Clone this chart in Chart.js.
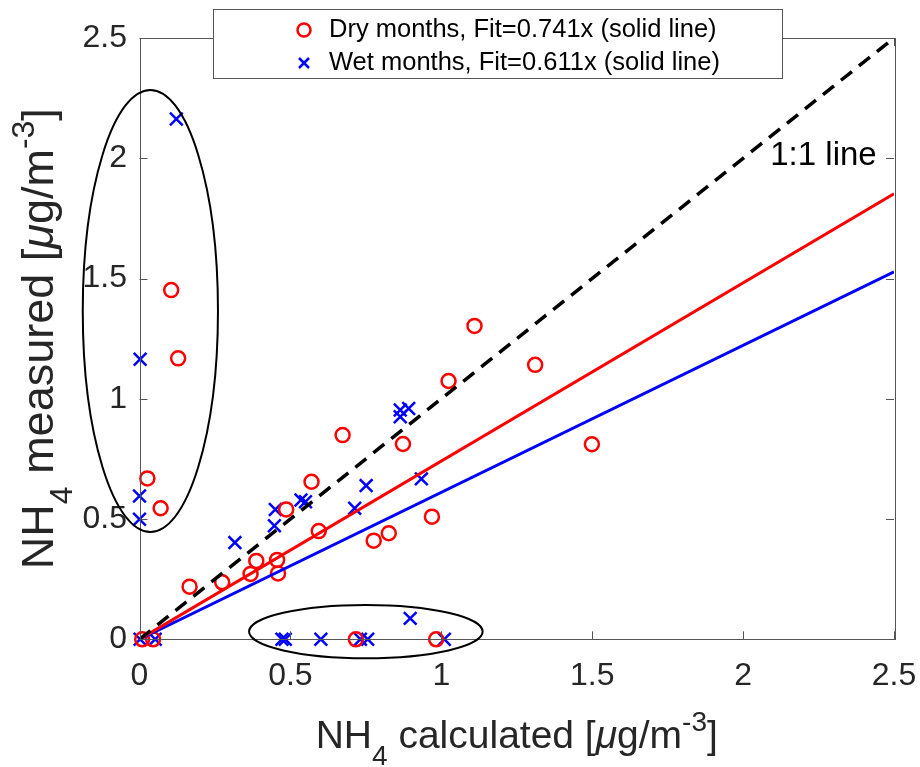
<!DOCTYPE html>
<html><head><meta charset="utf-8">
<script src="https://cdn.jsdelivr.net/npm/chart.js@4.4.0/dist/chart.umd.min.js"></script>
<style>html,body{margin:0;padding:0;background:#fff;} #wrap{width:920px;height:767px;position:relative;}</style>
</head><body><div id="wrap"><canvas id="c" width="920" height="767"></canvas></div>
<script>
// ---- data ----
const dryX = [0.105,0.128,0.026,0.070,1.110,1.311,1.024,0.673,0.873,1.499,0.570,0.486,0.969,0.594,0.826,0.776,0.387,0.456,0.368,0.459,0.274,0.166,0.009,0.045,0.717,0.983];
const dryY = [1.452,1.168,0.669,0.545,1.303,1.141,1.074,0.849,0.812,0.811,0.655,0.540,0.510,0.450,0.441,0.410,0.326,0.330,0.272,0.274,0.237,0.219,0,0,0,0];
const wetX = [0.122,0.002,0,0,0.864,0.892,0.864,0.751,0.934,0.535,0.550,0.713,0.450,0.447,0.316,0.897,0.002,0.052,0.472,0.483,0.601,0.732,0.756,1.010];
const wetY = [2.163,1.164,0.596,0.499,0.953,0.960,0.925,0.639,0.667,0.579,0.572,0.545,0.540,0.472,0.402,0.087,0,0,0,0,0,0,0,0];
const dryFit = 0.741;
const wetFit = 0.611;
const lineEnd = 2.5;
const xTickValues = [0,0.5,1,1.5,2,2.5];
const yTickValues = [0,0.5,1,1.5,2,2.5];
const xTickLabels = ['0','0.5','1','1.5','2','2.5'];
const yTickLabels = ['0','0.5','1','1.5','2','2.5'];
const legendLabels = ['Dry months, Fit=0.741x (solid line)','Wet months, Fit=0.611x (solid line)'];
const oneToOneLabel = '1:1 line';
// ellipse annotations (data units): centre x, centre y, semi-axis x, semi-axis y
const ellCX = [0.036, 0.750];
const ellCY = [1.365, 0.032];
const ellRX = [0.224, 0.387];
const ellRY = [0.919, 0.111];

const FONT = '"Liberation Sans", Arial, Helvetica, sans-serif';
const RED = '#ff0000', BLUE = '#0000ff', AX = '#262626';

const pts = (xs, ys) => xs.map((v, i) => ({x: v, y: ys[i]}));

function drawRich(ctx, parts, x, y) {
  let total = 0;
  parts.forEach(p => { ctx.font = (p.italic ? 'italic ' : '') + p.size + 'px ' + FONT; p.w = ctx.measureText(p.t).width; total += p.w; });
  let cx = x - total / 2;
  ctx.textAlign = 'left'; ctx.textBaseline = 'alphabetic';
  parts.forEach(p => { ctx.font = (p.italic ? 'italic ' : '') + p.size + 'px ' + FONT; ctx.fillText(p.t, cx, y + (p.dy || 0)); cx += p.w; });
}

const mkTitle = (word, big, small, shift) => [
  {t: 'NH', size: big}, {t: '4', size: small, dy: shift}, {t: ' ' + word + ' [', size: big},
  {t: 'μ', size: big, italic: true}, {t: 'g/m', size: big}, {t: '-3', size: small, dy: -shift}, {t: ']', size: big}
];

const deco = {
  id: 'deco',
  afterDatasetsDraw(chart) {
    const {ctx, chartArea: a, scales: {x, y}} = chart;
    ctx.save();
    // axes box
    ctx.strokeStyle = '#555'; ctx.lineWidth = 1;
    ctx.strokeRect(Math.round(a.left) + 0.5, Math.round(a.top) + 0.5, Math.round(a.right - a.left), Math.round(a.bottom - a.top));
    // inward ticks on all sides
    const TL = 8;
    ctx.beginPath();
    xTickValues.forEach(v => { const px = Math.round(x.getPixelForValue(v)) + 0.5; ctx.moveTo(px, a.bottom); ctx.lineTo(px, a.bottom - TL); ctx.moveTo(px, a.top); ctx.lineTo(px, a.top + TL); });
    yTickValues.forEach(v => { const py = Math.round(y.getPixelForValue(v)) + 0.5; ctx.moveTo(a.left, py); ctx.lineTo(a.left + TL, py); ctx.moveTo(a.right, py); ctx.lineTo(a.right - TL, py); });
    ctx.stroke();
    // ellipses
    ctx.strokeStyle = '#000'; ctx.lineWidth = 2;
    ellCX.forEach((cxv, i) => {
      const cx = x.getPixelForValue(cxv), cy = y.getPixelForValue(ellCY[i]);
      const rx = x.getPixelForValue(cxv + ellRX[i]) - cx;
      const ry = cy - y.getPixelForValue(ellCY[i] + ellRY[i]);
      ctx.beginPath(); ctx.ellipse(cx, cy, rx, ry, 0, 0, 2 * Math.PI); ctx.stroke();
    });
    // 1:1 label
    ctx.fillStyle = '#000';
    ctx.font = '33px ' + FONT; ctx.textAlign = 'left'; ctx.textBaseline = 'middle';
    ctx.fillText(oneToOneLabel, x.getPixelForValue(2.09), y.getPixelForValue(2.01));
    // legend
    const L = 213, T = 9, W = 569, H = 69;
    ctx.fillStyle = '#fff'; ctx.fillRect(L, T, W, H);
    ctx.strokeStyle = '#555'; ctx.lineWidth = 1; ctx.strokeRect(L + 0.5, T + 0.5, W, H);
    const rows = [T + 21, T + 54];
    ctx.strokeStyle = RED; ctx.lineWidth = 2.5;
    ctx.beginPath(); ctx.arc(304, rows[0], 6.5, 0, 2 * Math.PI); ctx.stroke();
    ctx.strokeStyle = BLUE; ctx.lineWidth = 2.5;
    const s = 5;
    ctx.beginPath(); ctx.moveTo(304 - s, rows[1] - s); ctx.lineTo(304 + s, rows[1] + s); ctx.moveTo(304 - s, rows[1] + s); ctx.lineTo(304 + s, rows[1] - s); ctx.stroke();
    ctx.fillStyle = '#000'; ctx.font = '25.5px ' + FONT; ctx.textBaseline = 'middle'; ctx.textAlign = 'left';
    ctx.fillText(legendLabels[0], 329, rows[0]);
    ctx.fillText(legendLabels[1], 329, rows[1]);
    // axis titles
    ctx.fillStyle = AX;
    const cxT = (a.left + a.right) / 2;
    drawRich(ctx, mkTitle('calculated', 39, 28, 17), cxT, 748);
    ctx.save();
    ctx.translate(53, (a.top + a.bottom) / 2);
    ctx.rotate(-Math.PI / 2);
    drawRich(ctx, mkTitle('measured', 45, 32, 19), 0, 0);
    ctx.restore();
    ctx.restore();
  }
};

new Chart(document.getElementById('c'), {
  type: 'scatter',
  data: {
    datasets: [
      {label: '1:1', type: 'line', data: [{x: 0, y: 0}, {x: lineEnd, y: lineEnd}], borderColor: '#000', borderWidth: 3.5, borderDash: [14, 9], pointRadius: 0, showLine: true, fill: false},
      {label: 'dry fit', type: 'line', data: [{x: 0, y: 0}, {x: lineEnd, y: dryFit * lineEnd}], borderColor: RED, borderWidth: 3, pointRadius: 0, showLine: true, fill: false},
      {label: 'wet fit', type: 'line', data: [{x: 0, y: 0}, {x: lineEnd, y: wetFit * lineEnd}], borderColor: BLUE, borderWidth: 3, pointRadius: 0, showLine: true, fill: false},
      {label: legendLabels[0], data: pts(dryX, dryY), pointStyle: 'circle', pointRadius: 7, pointBorderWidth: 2.5, borderColor: RED, backgroundColor: 'rgba(0,0,0,0)', clip: false},
      {label: legendLabels[1], data: pts(wetX, wetY), pointStyle: 'crossRot', pointRadius: 9, pointBorderWidth: 2.5, borderColor: BLUE, backgroundColor: BLUE, clip: false}
    ]
  },
  options: {
    responsive: false, animation: false, devicePixelRatio: 1,
    layout: {padding: {top: 38, right: 26, left: 0, bottom: 0}},
    plugins: {legend: {display: false}, tooltip: {enabled: false}},
    scales: {
      x: {
        type: 'linear', min: 0, max: 2.5, position: 'bottom',
        afterBuildTicks: s => { s.ticks = xTickValues.map(v => ({value: v})); },
        afterFit: s => { s.height = 127.7; s.paddingLeft = 0; s.paddingRight = 0; },
        grid: {display: false, drawTicks: false}, border: {display: false},
        ticks: {padding: 18, color: AX, font: {size: 32, family: FONT}, maxRotation: 0, autoSkip: false,
          callback: (v) => xTickLabels[xTickValues.indexOf(v)]}
      },
      y: {
        type: 'linear', min: 0, max: 2.5,
        afterBuildTicks: s => { s.ticks = yTickValues.map(v => ({value: v})); },
        afterFit: s => { s.width = 139.5; s.paddingTop = 0; s.paddingBottom = 0; },
        grid: {display: false, drawTicks: false}, border: {display: false},
        ticks: {padding: 12.5, color: AX, font: {size: 32, family: FONT},
          callback: (v) => yTickLabels[yTickValues.indexOf(v)]}
      }
    }
  },
  plugins: [deco]
});
</script></body></html>
